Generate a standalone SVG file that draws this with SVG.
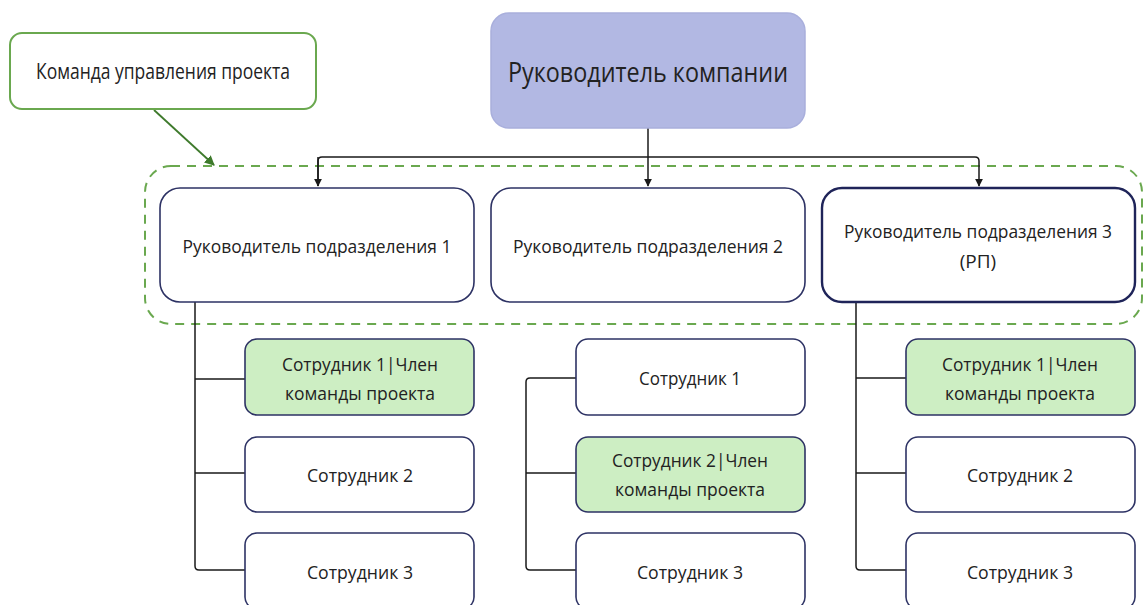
<svg xmlns="http://www.w3.org/2000/svg" width="1145" height="605" viewBox="0 0 1145 605">
<defs>
<marker id="arr" viewBox="0 0 10 10" refX="9" refY="5" markerWidth="8" markerHeight="8" markerUnits="userSpaceOnUse" orient="auto">
<path d="M0,0 L10,5 L0,10 Z" fill="#1a1a1a"/>
</marker>
<marker id="garr" viewBox="0 0 10 10" refX="9" refY="5" markerWidth="10" markerHeight="10" markerUnits="userSpaceOnUse" orient="auto">
<path d="M0,0 L10,5 L0,10 Z" fill="#3e7a2c"/>
</marker>
<style>
text{font-family:"Open Sans","Liberation Sans",sans-serif;fill:#222;text-anchor:middle}
.w{fill:#fff;stroke:#2d3264;stroke-width:1.6}
.g{fill:#cdeec3;stroke:#2d3264;stroke-width:1.6}
.c{fill:none;stroke:#1a1a1a;stroke-width:1.5}
.l2{font-size:19px}
.ch{font-size:18px}
</style>
</defs>
<rect width="1145" height="605" fill="#fff"/>
<g id="team-frame">
<rect x="145" y="166" width="997" height="158" rx="26" fill="none" stroke="#6aa84f" stroke-width="2" stroke-dasharray="9,7"/>
</g>
<g id="connectors">
<path class="c" d="M648,128 V157"/>
<path class="c" d="M318,186 V161 Q318,157 322,157 H975 Q979,157 979,161 V186" marker-end="url(#arr)"/>
<path class="c" d="M318,157 V186" marker-end="url(#arr)"/>
<path class="c" d="M648,157 V186" marker-end="url(#arr)"/>
<path class="c" d="M195,302 V566 Q195,570 199,570 H245 M195,379 H245 M195,473 H245"/>
<path class="c" d="M576,378 H530 Q526,378 526,382 V566 Q526,570 530,570 H576 M526,473 H576"/>
<path class="c" d="M856,302 V566 Q856,570 860,570 H906 M856,378 H906 M856,473 H906"/>
<path d="M154,110 L214,165" fill="none" stroke="#3e7a2c" stroke-width="1.8" marker-end="url(#garr)"/>
</g>
<g id="callout">
<rect x="10" y="33" width="306" height="76" rx="12" fill="#fff" stroke="#6aa84f" stroke-width="2"/>
<text x="163" y="79" font-size="21" textLength="254" lengthAdjust="spacingAndGlyphs">Команда управления проекта</text>
</g>
<g id="ceo">
<rect x="491" y="13" width="314" height="115" rx="18" fill="#b2b8e3" stroke="#a9afdc" stroke-width="1.5"/>
<text x="648" y="82" font-size="28" textLength="280" lengthAdjust="spacingAndGlyphs">Руководитель компании</text>
</g>
<g id="head1">
<rect class="w" x="160" y="188" width="314" height="114" rx="20"/>
<text class="l2" x="317" y="253" textLength="269" lengthAdjust="spacingAndGlyphs">Руководитель подразделения 1</text>
</g>
<g id="head2">
<rect class="w" x="491" y="188" width="314" height="114" rx="20"/>
<text class="l2" x="648" y="253" textLength="270" lengthAdjust="spacingAndGlyphs">Руководитель подразделения 2</text>
</g>
<g id="head3">
<rect x="822" y="188" width="313" height="114" rx="20" fill="#fff" stroke="#1f2459" stroke-width="2.4"/>
<text class="l2" x="978" y="238" textLength="268" lengthAdjust="spacingAndGlyphs">Руководитель подразделения 3</text>
<text class="l2" x="978" y="268">(РП)</text>
</g>
<g id="d1e1">
<rect class="g" x="245" y="339" width="229" height="76" rx="12"/>
<text class="ch" x="360" y="371" textLength="156" lengthAdjust="spacingAndGlyphs">Сотрудник 1|Член</text>
<text class="ch" x="360" y="400" textLength="150" lengthAdjust="spacingAndGlyphs">команды проекта</text>
</g>
<g id="d1e2">
<rect class="w" x="245" y="437" width="229" height="75" rx="12"/>
<text class="ch" x="360" y="482" textLength="106" lengthAdjust="spacingAndGlyphs">Сотрудник 2</text>
</g>
<g id="d1e3">
<rect class="w" x="245" y="533" width="229" height="76" rx="12"/>
<text class="ch" x="360" y="579" textLength="106" lengthAdjust="spacingAndGlyphs">Сотрудник 3</text>
</g>
<g id="d2e1">
<rect class="w" x="576" y="339" width="229" height="76" rx="12"/>
<text class="ch" x="690" y="385" textLength="102" lengthAdjust="spacingAndGlyphs">Сотрудник 1</text>
</g>
<g id="d2e2">
<rect class="g" x="576" y="437" width="229" height="75" rx="12"/>
<text class="ch" x="690" y="467" textLength="156" lengthAdjust="spacingAndGlyphs">Сотрудник 2|Член</text>
<text class="ch" x="690" y="496" textLength="150" lengthAdjust="spacingAndGlyphs">команды проекта</text>
</g>
<g id="d2e3">
<rect class="w" x="576" y="533" width="229" height="76" rx="12"/>
<text class="ch" x="690" y="579" textLength="106" lengthAdjust="spacingAndGlyphs">Сотрудник 3</text>
</g>
<g id="d3e1">
<rect class="g" x="906" y="339" width="229" height="76" rx="12"/>
<text class="ch" x="1020" y="371" textLength="156" lengthAdjust="spacingAndGlyphs">Сотрудник 1|Член</text>
<text class="ch" x="1020" y="400" textLength="150" lengthAdjust="spacingAndGlyphs">команды проекта</text>
</g>
<g id="d3e2">
<rect class="w" x="906" y="437" width="229" height="75" rx="12"/>
<text class="ch" x="1020" y="482" textLength="106" lengthAdjust="spacingAndGlyphs">Сотрудник 2</text>
</g>
<g id="d3e3">
<rect class="w" x="906" y="533" width="229" height="76" rx="12"/>
<text class="ch" x="1020" y="579" textLength="106" lengthAdjust="spacingAndGlyphs">Сотрудник 3</text>
</g>
</svg>
